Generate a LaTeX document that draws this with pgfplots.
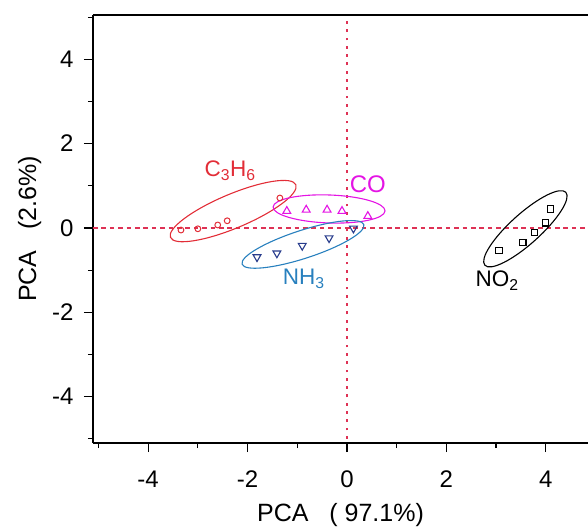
\documentclass[border=0pt]{standalone}
\usepackage{fontspec}
\setmainfont{Liberation Sans}
\usepackage{pgfplots}
\pgfplotsset{compat=1.18}
\usetikzlibrary{shapes.geometric}
\definecolor{cred}{RGB}{226,45,55}
\definecolor{cmag}{RGB}{228,20,228}
\definecolor{cblue}{RGB}{40,128,190}
\definecolor{cnavy}{RGB}{40,60,140}
\definecolor{cline}{RGB}{222,50,85}
\begin{document}
\begin{tikzpicture}
\begin{axis}[
    scale only axis,
    width=495pt, height=428pt,
    xmin=-5.11, xmax=4.85, ymin=-5.1, ymax=5.05,
    axis lines=left,
    axis line style={-, line width=1.3pt},
    xtick={-4,-2,0,2,4}, ytick={-4,-2,0,2,4},
    minor xtick={-5,-3,-1,1,3},
    minor ytick={-5,-3,-1,1,3,5},
    tick align=outside,
    major tick length=9pt, minor tick length=5pt,
    every tick/.style={black, line width=1.2pt},
    ticklabel style={font=\fontsize{24}{28}\selectfont},
    xticklabel style={yshift=-15pt},
    yticklabel style={xshift=-7pt},
    /pgf/number format/assume math mode=true,
    label style={font=\fontsize{25}{29}\selectfont},
    xlabel={PCA\ \ \ ( 97.1\%)},
    ylabel={PCA\ \ \ (2.6\%)},
    xlabel style={yshift=-9pt},
    ylabel style={yshift=4pt},
    clip=false,
]
% reference lines
\addplot[cline, line width=2.7pt, dash pattern=on 2.8pt off 5.5pt] coordinates {(0,-5.0) (0,4.9)};
\addplot[cline, line width=2.7pt, dash pattern=on 4.6pt off 3.8pt] coordinates {(-5.11,0) (4.85,0)};
% C3H6
\addplot[only marks, mark=o, mark size=2.9pt, cred, line width=1pt] coordinates {
    (-3.34,-0.05) (-3.00,-0.02) (-2.60,0.07) (-2.41,0.17) (-1.35,0.71)
};
% CO
\addplot[only marks, mark=triangle, mark size=4.5pt, cmag, line width=1.1pt] coordinates {
    (-1.21,0.40) (-0.82,0.43) (-0.40,0.43) (-0.10,0.40) (0.42,0.28)
};
% NH3
\addplot[only marks, mark=triangle, mark size=4.5pt, mark options={rotate=180}, cnavy, line width=1.1pt] coordinates {
    (-1.81,-0.69) (-1.41,-0.60) (-0.90,-0.42) (-0.36,-0.24) (0.13,-0.01)
};
% NO2
\addplot[only marks, mark=square, mark size=3.1pt, black, line width=1.1pt] coordinates {
    (3.06,-0.54) (3.54,-0.34) (3.78,-0.10) (4.00,0.12) (4.10,0.45)
};
% ellipses
\node[draw=cred, line width=1.1pt, ellipse, minimum width=136pt, minimum height=34pt, inner sep=0pt, rotate=22.8] at (axis cs:-2.29,0.40) {};
\node[draw=cmag, line width=1.1pt, ellipse, minimum width=112pt, minimum height=28pt, inner sep=0pt, rotate=-2] at (axis cs:-0.36,0.45) {};
\node[draw=cblue, line width=1.1pt, ellipse, minimum width=128pt, minimum height=28pt, inner sep=0pt, rotate=18] at (axis cs:-0.885,-0.39) {};
\node[draw=black, line width=1.1pt, ellipse, minimum width=109pt, minimum height=30pt, inner sep=0pt, rotate=42] at (axis cs:3.59,-0.02) {};
% labels
\node[text=cred, font=\fontsize{22.5}{26}\selectfont] at (axis cs:-2.35,1.35) {C\textsubscript{3}H\textsubscript{6}};
\node[text=cmag, font=\fontsize{24}{28}\selectfont] at (axis cs:0.42,1.04) {CO};
\node[text=cblue, font=\fontsize{22.5}{26}\selectfont] at (axis cs:-0.87,-1.21) {NH\textsubscript{3}};
\node[text=black, font=\fontsize{22.5}{26}\selectfont] at (axis cs:3.02,-1.25) {NO\textsubscript{2}};
% top frame
\draw[line width=1.3pt] (rel axis cs:0,1) -- (rel axis cs:1,1);
\coordinate (bl) at (rel axis cs:0,0);
\coordinate (tr) at (rel axis cs:1,1);
\end{axis}
\pgfresetboundingbox
\path[use as bounding box] ([xshift=-93pt,yshift=-86pt]bl) rectangle ([yshift=15pt]tr);
\end{tikzpicture}
\end{document}
